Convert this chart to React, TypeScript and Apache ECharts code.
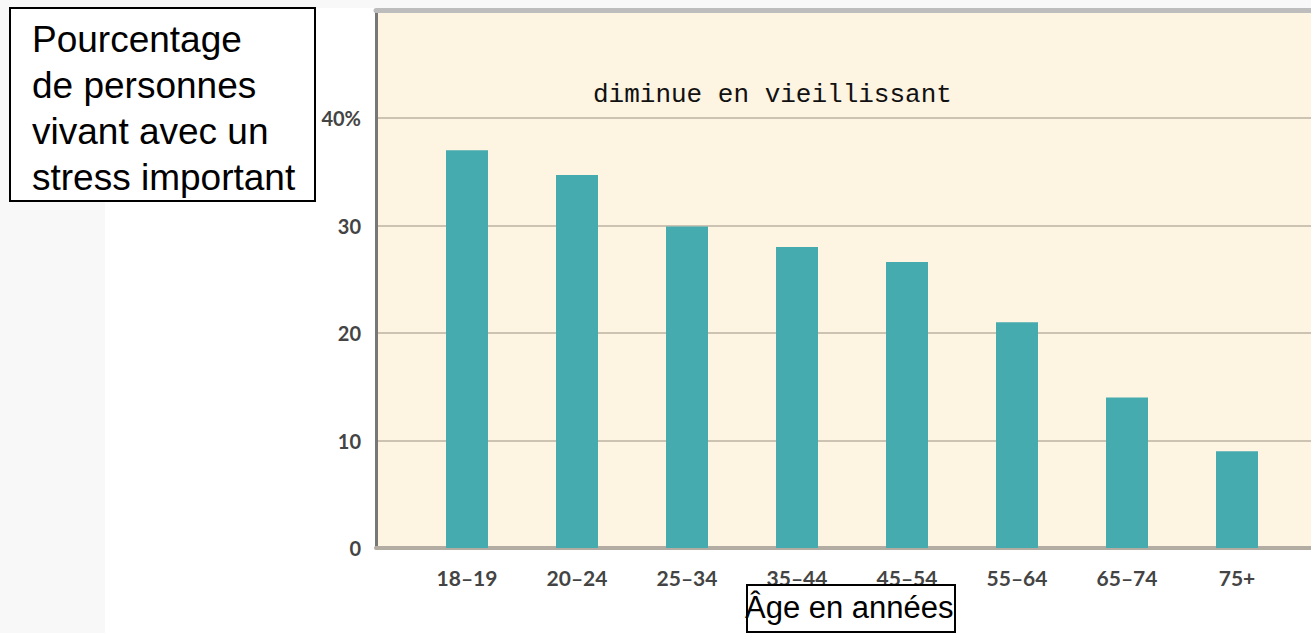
import React, { useEffect, useRef } from "react";
import * as echarts from "echarts";

const categories = ["18–19", "20–24", "25–34", "35–44", "45–54", "55–64", "65–74", "75+"];
const values = [37, 34.7, 29.9, 28, 26.6, 21, 14, 9];
const yMin = 0;
const yMax = 50;
const yInterval = 10;
const titleLines = ["Pourcentage", "de personnes", "vivant avec un", "stress important"];
const xTitle = "Âge en années";
const note = "diminue en vieillissant";

export default function App() {
  const ref = useRef<HTMLDivElement>(null);
  useEffect(() => {
    if (!ref.current) return;
    const chart = echarts.init(ref.current, undefined, { renderer: "svg" });
    const labelFont = "Lato, 'Open Sans', sans-serif";
    const option: any = {
      animation: false,
      backgroundColor: "#ffffff",
      grid: [
        {
          left: 376,
          right: 0,
          top: 10.5,
          bottom: 85,
          show: true,
          backgroundColor: "#fdf4e2",
          borderWidth: 0,
        },
        { left: 412, right: 19, top: 10.5, bottom: 85, show: false },
      ],
      xAxis: [
        {
          gridIndex: 0,
          type: "value",
          min: 0,
          max: 1,
          position: "bottom",
          axisLine: { show: true, lineStyle: { color: "#b3aca3", width: 4 } },
          axisTick: { show: false },
          axisLabel: { show: false },
          splitLine: { show: false },
        },
        {
          gridIndex: 1,
          type: "category",
          data: categories,
          axisLine: { show: false },
          axisTick: { show: false },
          axisLabel: {
            margin: 19,
            fontSize: 21,
            fontWeight: "bold",
            color: "#444444",
            fontFamily: labelFont,
          },
        },
        {
          gridIndex: 0,
          type: "value",
          min: 0,
          max: 1,
          position: "top",
          axisLine: { show: true, lineStyle: { color: "#bdbdbd", width: 5 } },
          axisTick: { show: false },
          axisLabel: { show: false },
          splitLine: { show: false },
        },
      ],
      yAxis: [
        {
          gridIndex: 0,
          type: "value",
          min: yMin,
          max: yMax,
          interval: yInterval,
          axisLine: { show: true, lineStyle: { color: "#777777", width: 3 } },
          axisTick: { show: false },
          axisLabel: {
            margin: 15,
            fontSize: 20,
            fontWeight: "bold",
            color: "#444444",
            fontFamily: labelFont,
            formatter: (v: number) => (v === 50 ? "" : v === 40 ? "40%" : String(v)),
          },
          splitLine: { show: true, lineStyle: { color: "#cdc3b3", width: 2 } },
        },
        {
          gridIndex: 1,
          type: "value",
          min: yMin,
          max: yMax,
          interval: yInterval,
          show: false,
          splitLine: { show: false },
        },
      ],
      series: [
        {
          type: "bar",
          xAxisIndex: 1,
          yAxisIndex: 1,
          data: values,
          barWidth: 42,
          itemStyle: { color: "#46abaf" },
        },
      ],
      graphic: [
        { type: "rect", z: -10, silent: true, shape: { x: 0, y: 0, width: 105, height: 633 }, style: { fill: "#f8f8f8" } },
        { type: "rect", z: -10, silent: true, shape: { x: 105, y: 0, width: 1206, height: 8 }, style: { fill: "#f8f8f8" } },
        {
          type: "text",
          left: 593,
          top: 82,
          z: 10,
          style: { text: note, fontSize: 26, fontFamily: "'Liberation Mono', 'DejaVu Sans Mono', monospace", fill: "#111111" },
        },
        {
          type: "rect",
          z: 20,
          shape: { x: 10, y: 8, width: 305, height: 193 },
          style: { fill: "#ffffff", stroke: "#000000", lineWidth: 2 },
        },
        ...titleLines.map((t, i) => ({
          type: "text",
          z: 21,
          x: 32,
          y: 39 + i * 46,
          style: {
            text: t,
            fontSize: 37,
            fontFamily: "'Liberation Sans', Arial, sans-serif",
            fill: "#000000",
            verticalAlign: "middle",
            align: "left",
          },
        })),
        {
          type: "rect",
          z: 20,
          shape: { x: 747, y: 585, width: 208, height: 47 },
          style: { fill: "#ffffff", stroke: "#000000", lineWidth: 2 },
        },
        {
          type: "text",
          z: 21,
          x: 745,
          y: 607,
          style: {
            text: xTitle,
            fontSize: 31,
            fontFamily: "'Liberation Sans', Arial, sans-serif",
            fill: "#000000",
            verticalAlign: "middle",
            align: "left",
          },
        },
      ],
    };
    chart.setOption(option);
    return () => chart.dispose();
  }, []);
  return (
    <div
      ref={ref}
      style={{ position: "fixed", left: 0, top: 0, width: 1311, height: 633 }}
    />
  );
}
